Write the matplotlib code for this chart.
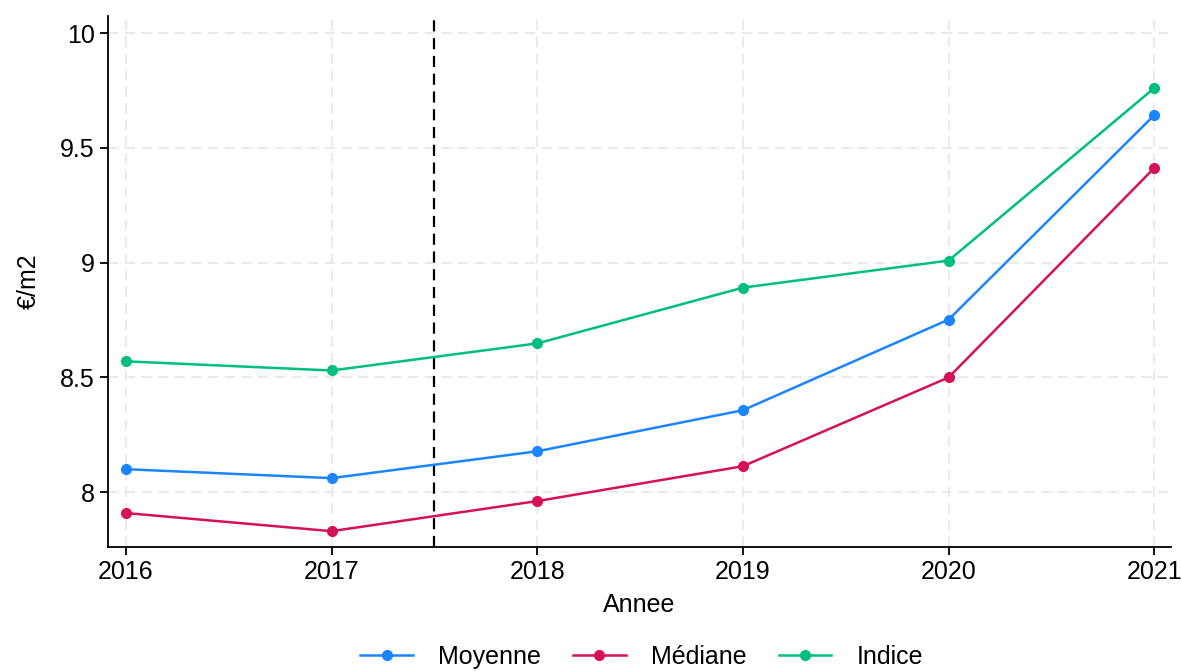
import matplotlib.pyplot as plt

plt.rcParams['font.family'] = ['Liberation Sans', 'DejaVu Sans']

# --- Data ---
years = [2016, 2017, 2018, 2019, 2020, 2021]
moyenne = [8.100, 8.061, 8.178, 8.357, 8.752, 9.643]
mediane = [7.909, 7.830, 7.961, 8.113, 8.500, 9.413]
indice = [8.570, 8.530, 8.648, 8.891, 9.009, 9.761]
yticks = [8, 8.5, 9, 9.5, 10]
ytick_labels = ["8", "8.5", "9", "9.5", "10"]
cutoff_year = 2017.5

# --- Figure ---
fig = plt.figure(figsize=(11.81, 6.71), dpi=100)
ax = fig.add_axes([0.0914, 0.1848, 0.9000, 0.7912])

series = [
    ("Moyenne", moyenne, "#1a85ff"),
    ("Médiane", mediane, "#d41159"),
    ("Indice", indice, "#00bf7d"),
]
for label, vals, color in series:
    ax.plot(years, vals, color=color, lw=1.8, marker='o', ms=7, label=label, zorder=3)

ax.axvline(cutoff_year, color='black', lw=1.6, ls=(0, (5, 3)), zorder=2)

ax.set_xlim(2015.913, 2021.08)
ax.set_ylim(7.761, 10.074)
ax.set_xticks(years)
ax.set_yticks(yticks)
ax.set_yticklabels(ytick_labels)
ax.grid(True, color='#ebebeb', lw=1.5, ls=(0, (5, 3)), zorder=0)

for side in ['top', 'right']:
    ax.spines[side].set_visible(False)
for side in ['left', 'bottom']:
    ax.spines[side].set_linewidth(1.3)
ax.tick_params(axis='both', labelsize=18, length=6, width=1.3, direction='out')
ax.set_xlabel("Annee", fontsize=18, labelpad=6)
ax.set_ylabel("€/m2", fontsize=18, labelpad=14)

ax.legend(loc='upper center', bbox_to_anchor=(0.502, -0.165), ncol=3, frameon=False,
          fontsize=18, handlelength=2.1, columnspacing=1.3, handletextpad=1.0,
          borderaxespad=0)

fig.savefig("out.png", dpi=100)
